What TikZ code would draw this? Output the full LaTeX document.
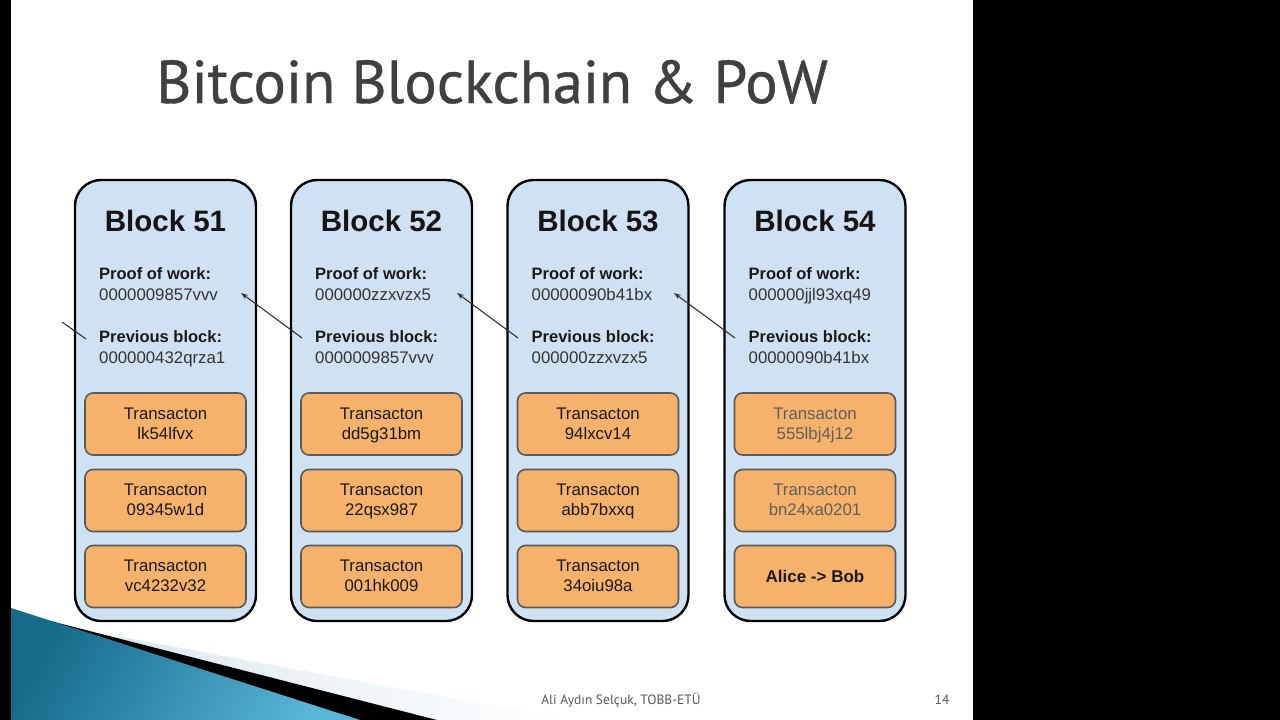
\documentclass[tikz,border=0pt]{standalone}
\usepackage{fontspec}
\setmainfont{Liberation Sans}
\newfontfamily\titlefont{PT Sans}[FakeBold=0.7]
\newfontfamily\footfont{PT Sans}
\usetikzlibrary{arrows.meta,shadings}
\definecolor{blockblue}{HTML}{CFE2F3}
\definecolor{txorange}{HTML}{F6B26B}
\definecolor{txborder}{HTML}{5A5A5A}
\definecolor{titlegray}{HTML}{404040}
\definecolor{valgray}{HTML}{333333}
\definecolor{fadegray}{HTML}{5E5E5E}
\definecolor{tealdark}{HTML}{166A8A}
\definecolor{teallight}{HTML}{58B6D6}
\definecolor{stripgray}{HTML}{D5E4EC}
\tikzset{
  blockbox/.style={draw=black, line width=2.4pt, fill=blockblue, rounded corners=26pt,
    minimum width=181pt, minimum height=441pt, inner sep=0pt},
  txbox/.style={draw=txborder, line width=1.6pt, fill=txorange, rounded corners=8pt,
    minimum width=161pt, minimum height=62pt, inner sep=0pt, align=center,
    font=\fontsize{16.8}{20}\selectfont, text=black!90},
  txtext/.style={inner sep=0pt, align=center, font=\fontsize{16.8}{20}\selectfont, text=black!90},
  blocktitle/.style={font=\fontsize{29.5}{32}\selectfont\bfseries, text=black!92, inner sep=0pt},
  fieldlabel/.style={anchor=base west, font=\fontsize{16.5}{20}\selectfont\bfseries, text=black!90, inner sep=0pt},
  fieldvalue/.style={anchor=base west, font=\fontsize{16.8}{20}\selectfont, text=valgray, inner sep=0pt},
  linkarrow/.style={draw=valgray, line width=1.1pt, -{Stealth[length=7pt,width=5pt]}},
}
\begin{document}
\begin{tikzpicture}[x=1pt,y=-1pt]
\useasboundingbox (0,0) rectangle (1280,720);
% slide background
\fill[white] (0,0) rectangle (1280,720);
\fill[black] (0,0) rectangle (11,720);
\fill[black] (973,0) rectangle (1280,720);
% bottom-left decoration
\shade[left color=stripgray, right color=white] (110,635) -- (570,720) -- (11,720) -- (11,626) -- cycle;
\fill[black] (70,626) -- (437,720) -- (11,720) -- (11,611) -- cycle;
\shade[left color=tealdark, right color=teallight, shading angle=60] (11,608) -- (360,720) -- (11,720) -- cycle;
% title
\node[font=\titlefont\fontsize{60.5}{62}\selectfont, text=titlegray, anchor=base, inner sep=0pt] (title) at (492,103) {Bitcoin Blockchain \& PoW};
% footer
\node[font=\footfont\fontsize{13.5}{15}\selectfont, text=black!65, anchor=base, inner sep=0pt] (author) at (621,704) {Ali Aydın Selçuk, TOBB-ETÜ};
\node[font=\footfont\fontsize{13.5}{15}\selectfont, text=black!65, anchor=base, inner sep=0pt] (page) at (942,704) {14};

% blocks
\foreach \n/\cx/\pow/\prev/\ta/\tb/\tc in {
  51/165.5/0000009857vvv/000000432qrza1/lk54lfvx/09345w1d/vc4232v32,
  52/381.5/000000zzxvzx5/0000009857vvv/dd5g31bm/22qsx987/001hk009,
  53/598/00000090b41bx/000000zzxvzx5/94lxcv14/abb7bxxq/34oiu98a}{
  \node[blockbox] (b\n) at (\cx,400.5) {};
  \node[blocktitle] (b\n title) at (\cx,221) {Block \n};
  \node[fieldlabel] (b\n powl) at (\cx-66.5,279) {Proof of work:};
  \node[fieldvalue] (b\n powv) at (\cx-66.5,300) {\pow};
  \node[fieldlabel] (b\n prevl) at (\cx-66.5,342) {Previous block:};
  \node[fieldvalue] (b\n prevv) at (\cx-66.5,363) {\prev};
  \node[txbox] (b\n t1) at (\cx,424) {};
  \node[txbox] (b\n t2) at (\cx,500.5) {};
  \node[txbox] (b\n t3) at (\cx,576.5) {};
  \node[txtext] (b\n t1x) at (\cx,425) {\strut Transacton\\\strut\ta};
  \node[txtext] (b\n t2x) at (\cx,501.5) {\strut Transacton\\\strut\tb};
  \node[txtext] (b\n t3x) at (\cx,577.5) {\strut Transacton\\\strut\tc};
}
\node[blockbox] (b54) at (815,400.5) {};
\node[blocktitle] (b54title) at (815,221) {Block 54};
\node[fieldlabel] (b54powl) at (748.5,279) {Proof of work:};
\node[fieldvalue] (b54powv) at (748.5,300) {000000jjl93xq49};
\node[fieldlabel] (b54prevl) at (748.5,342) {Previous block:};
\node[fieldvalue] (b54prevv) at (748.5,363) {00000090b41bx};
\node[txbox] (b54t1) at (815,424) {};
\node[txbox] (b54t2) at (815,500.5) {};
\node[txtext, text=fadegray] (b54t1x) at (815,425) {\strut Transacton\\\strut 555lbj4j12};
\node[txtext, text=fadegray] (b54t2x) at (815,501.5) {\strut Transacton\\\strut bn24xa0201};
\node[txbox, font=\fontsize{17}{20}\selectfont\bfseries, text=black!90] (b54t3) at (815,576.5) {Alice -> Bob};

% links
\coordinate (s52) at (302,338); \coordinate (e51) at (241,293);
\coordinate (s53) at (518,338); \coordinate (e52) at (457,293);
\coordinate (s54) at (735,338); \coordinate (e53) at (674,293);
\coordinate (s51) at (86,339);  \coordinate (e50) at (62,322);
\draw[linkarrow] (s52) -- (e51);
\draw[linkarrow] (s53) -- (e52);
\draw[linkarrow] (s54) -- (e53);
\draw[draw=valgray, line width=1.1pt] (s51) -- (e50);
\end{tikzpicture}
\end{document}
